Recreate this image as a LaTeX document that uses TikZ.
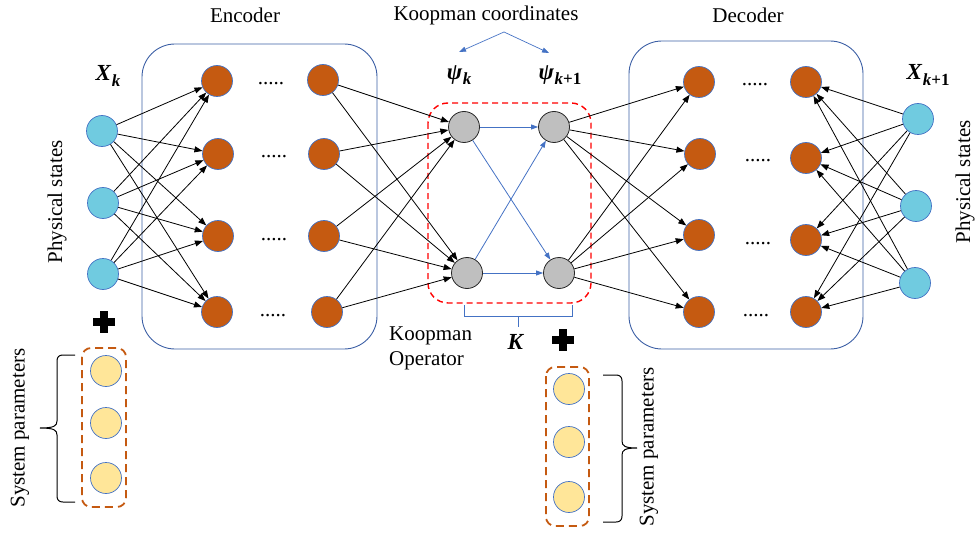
\documentclass[tikz,border=0pt]{standalone}
\usepackage{fontspec}
\setmainfont{Liberation Serif}
\usetikzlibrary{arrows.meta}
\definecolor{cyanf}{RGB}{112,203,224}
\definecolor{orangef}{RGB}{197,90,17}
\definecolor{grayf}{RGB}{191,191,191}
\definecolor{yellowf}{RGB}{255,230,153}
\definecolor{blueb}{RGB}{68,114,196}
\definecolor{boxb}{RGB}{60,95,165}
\newcommand{\bsym}[2]{\textbf{\textit{#1}}\kern0.5pt\raisebox{-0.25em}{\fontsize{17}{17}\selectfont\bfseries #2}}
\tikzset{
  neuron/.style={circle, minimum size=31pt, inner sep=0pt, line width=0.7pt, draw=blueb},
  inpt/.style={neuron, fill=cyanf},
  hid/.style={neuron, fill=orangef},
  koop/.style={circle, minimum size=31pt, inner sep=0pt, line width=0.8pt, draw=black!85, fill=grayf},
  param/.style={neuron, fill=yellowf},
  arr/.style={-{Triangle[length=8pt,width=6pt]}, line width=0.8pt, black},
  barr/.style={-{Triangle[length=7pt,width=5pt]}, line width=0.8pt, blueb},
  lbl/.style={font=\fontsize{21}{25}\selectfont, inner sep=0pt},
  mlbl/.style={font=\fontsize{23}{25}\selectfont, inner sep=0pt},
  dotsl/.style={font=\fontsize{21}{25}\selectfont, inner sep=0pt, anchor=base},
}
\begin{document}
\begin{tikzpicture}[x=1pt,y=-1pt]
\useasboundingbox (0,0) rectangle (976,540);
% boxes
\draw[boxb, line width=0.9pt, rounded corners=33pt] (142,44) rectangle (377,349);
\draw[boxb, line width=0.9pt, rounded corners=33pt] (629,41) rectangle (863,349);
\draw[red, dashed, line width=1.4pt, dash pattern=on 6pt off 4pt, rounded corners=20pt] (428,103) rectangle (591,303);
\draw[orangef, line width=1.8pt, dash pattern=on 8pt off 5pt, rounded corners=9pt] (82,348) rectangle (126,507);
\draw[orangef, line width=1.8pt, dash pattern=on 8pt off 5pt, rounded corners=9pt] (546,367) rectangle (589,526);
% input nodes
\node[inpt] (in1) at (102,131) {};
\node[inpt] (in2) at (103,203) {};
\node[inpt] (in3) at (103,274) {};
% encoder
\node[hid] (ea1) at (217,81) {};
\node[hid] (ea2) at (218,154) {};
\node[hid] (ea3) at (218,236) {};
\node[hid] (ea4) at (217,312) {};
\node[hid] (eb1) at (323,80) {};
\node[hid] (eb2) at (324,154) {};
\node[hid] (eb3) at (324,236) {};
\node[hid] (eb4) at (327,312) {};
\node[dotsl] (ed1) at (271,85) {.....};
\node[dotsl] (ed2) at (274,158) {.....};
\node[dotsl] (ed3) at (274,240) {.....};
\node[dotsl] (ed4) at (273,316) {.....};
% koopman
\node[koop] (ka) at (464,127) {};
\node[koop] (kb) at (467,273) {};
\node[koop] (kc) at (554,127) {};
\node[koop] (kd) at (559,273) {};
% decoder
\node[hid] (da1) at (699,82) {};
\node[hid] (da2) at (700,154) {};
\node[hid] (da3) at (699,235) {};
\node[hid] (da4) at (699,312) {};
\node[hid] (db1) at (806,82) {};
\node[hid] (db2) at (806,158) {};
\node[hid] (db3) at (806,240) {};
\node[hid] (db4) at (806,312) {};
\node[dotsl] (dd1) at (755,86) {.....};
\node[dotsl] (dd2) at (758,162) {.....};
\node[dotsl] (dd3) at (758,244) {.....};
\node[dotsl] (dd4) at (756,316) {.....};
% outputs
\node[inpt] (out1) at (918,119) {};
\node[inpt] (out2) at (916,206) {};
\node[inpt] (out3) at (915,283) {};
% parameters
\node[param] (pl1) at (106,371) {};
\node[param] (pl2) at (106,423) {};
\node[param] (pl3) at (106,478) {};
\node[param] (pr1) at (569,389) {};
\node[param] (pr2) at (569,442) {};
\node[param] (pr3) at (569,497) {};
% connections
\foreach \i in {1,2,3} \foreach \j in {1,2,3,4} \draw[arr] (in\i) -- (ea\j);
\foreach \j in {1,2,3,4} \foreach \k in {ka,kb} \draw[arr] (eb\j) -- (\k);
\foreach \k in {kc,kd} \foreach \j in {1,2,3,4} \draw[arr] (\k) -- (da\j);
\foreach \i in {1,2,3} \foreach \j in {1,2,3,4} \draw[arr] (out\i) -- (db\j);
\draw[barr] (ka) -- (kc);
\draw[barr] (ka) -- (kd);
\draw[barr] (kb) -- (kc);
\draw[barr] (kb) -- (kd);
% labels
\node[lbl] (enc) at (245,15) {Encoder};
\node[lbl] (dec) at (748,15) {Decoder};
\node[lbl] (kcoord) at (486,15) {Koopman coordinates};
\coordinate (apex) at (504,32);
\coordinate (tipa) at (459,52);
\coordinate (tipb) at (549,53);
\draw[barr, line width=0.7pt] (apex) -- (tipa);
\draw[barr, line width=0.7pt] (apex) -- (tipb);
\node[mlbl] (xk) at (108,76) {\bsym{X}{\itshape k}};
\node[mlbl] (psik) at (459,75) {\bsym{ψ}{\itshape k}};
\node[mlbl] (psik1) at (560,75) {\bsym{ψ}{{\itshape k}+1}};
\node[mlbl] (xk1) at (928,75) {\bsym{X}{{\itshape k}+1}};
\node[lbl, rotate=90] (psl) at (57,202) {Physical states};
\node[lbl, rotate=90] (psr) at (965,182) {Physical states};
\node[lbl, anchor=north west, align=left] (kop) at (389,327) {Koopman\\Operator};
\node[mlbl] (kk) at (516,342) {\textbf{\textit{K}}};
\node[lbl, rotate=90] (spl) at (20,428) {System parameters};
\node[lbl, rotate=90] (spr) at (649,447) {System parameters};
% K bracket
\draw[blueb, line width=0.9pt] (464,305) -- (464,316) -- (572,316) -- (572,305);
\draw[blueb, line width=0.9pt] (518,316) -- (518,327);
% plus signs
\fill[black] (93,318) rectangle (115,326);
\fill[black] (100,311) rectangle (108,333);
\fill[black] (552,336) rectangle (574,344);
\fill[black] (559,329) rectangle (567,351);
% braces
\draw[line width=1pt] (75,355) -- (63,355) .. controls (59,355) and (57,357) .. (57,361) -- (57,421) .. controls (57,426) and (54,428) .. (40,428) .. controls (54,428) and (57,430) .. (57,435) -- (57,496) .. controls (57,500) and (59,502) .. (63,502) -- (75,502);
\draw[line width=1pt] (603,375) -- (616,375) .. controls (620,375) and (622,377) .. (622,381) -- (622,441) .. controls (622,446) and (625,448) .. (637,448) .. controls (625,448) and (622,450) .. (622,455) -- (622,516) .. controls (622,520) and (620,522) .. (616,522) -- (603,522);
\end{tikzpicture}
\end{document}
